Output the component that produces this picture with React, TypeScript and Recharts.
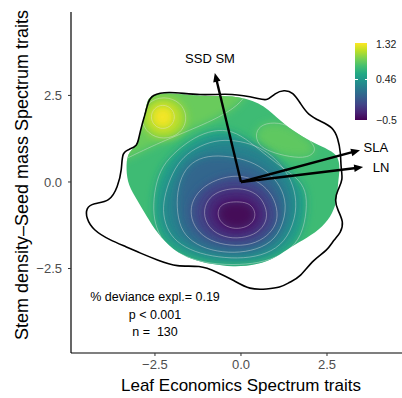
import React from "react";
import { ComposedChart, XAxis, YAxis, Scatter, Curve } from "recharts";

// axes
const xDomain = [-4.94, 4.68];
const yDomain = [-4.94, 4.91];
const xTicks = [-2.5, 0, 2.5];
const yTicks = [-2.5, 0, 2.5];

// colour scale of the fitted surface
const scaleMin = -0.5;
const scaleMax = 1.32;
const scaleLabels = ["1.32", "0.46", "\u22120.5"];
const scaleTickValue = 0.46;

// outline of the sampled trait space
const hull = [
  [-2.59, 2.51], [-2.15, 2.63], [-1.19, 2.49], [-0.23, 2.57], [0.55, 2.4], [0.76, 2.34],
  [0.99, 2.57], [1.25, 2.66], [1.51, 2.6], [1.74, 2.25], [1.95, 1.94], [2.3, 1.76],
  [2.67, 1.59], [2.82, 1.27], [2.9, 0.84], [2.9, 0.43], [2.97, 0.06], [2.81, -0.23],
  [2.72, -0.52], [2.81, -0.81], [2.99, -1.16], [2.9, -1.47], [2.69, -1.68], [2.52, -1.97],
  [2.09, -2.25], [1.72, -2.75], [1.42, -2.89], [1.13, -3.06], [0.76, -3.09], [0.26, -3.12],
  [-0.23, -2.83], [-0.7, -2.6], [-1.19, -2.4], [-1.86, -2.46], [-2.44, -2.25], [-2.94, -2.05],
  [-3.31, -1.88], [-3.81, -1.68], [-4.3, -1.39], [-4.5, -1.04], [-4.5, -0.75], [-4.3, -0.61],
  [-3.81, -0.58], [-3.58, -0.14], [-3.46, 0.35], [-3.46, 0.87], [-3.23, 0.95], [-3.02, 1.04],
  [-2.97, 1.27], [-2.88, 1.65], [-2.79, 1.94], [-2.7, 2.31],
];

// area where the surface is drawn
const surface = [
  [-2.65, 2.49], [-2.15, 2.6], [-1.19, 2.46], [-0.23, 2.51], [0.55, 2.31], [1.05, 1.85],
  [1.51, 1.47], [2.09, 1.13], [2.59, 0.92], [2.82, 0.75], [2.88, 0.4], [2.82, -0.03],
  [2.79, -0.52], [2.67, -0.9], [2.38, -1.3], [1.92, -1.62], [1.42, -1.88], [1.05, -2.17],
  [0.47, -2.4], [-0.23, -2.46], [-0.9, -2.37], [-1.4, -2.25], [-1.98, -1.97], [-2.44, -1.47],
  [-2.73, -1.01], [-3.02, -0.52], [-3.28, -0.09], [-3.34, 0.35], [-3.31, 0.84], [-3.05, 1.01],
  [-2.97, 1.27], [-2.88, 1.65], [-2.79, 1.99], [-2.73, 2.31],
];
const surfaceValue = 0.74;

// contour rings (level lines)
const ringHill = [
  [-3.66, 0.49], [-3.14, 0.78], [-2.06, 1.27], [-0.9, 1.73], [-0.17, 2.14], [0.12, 2.46],
  [0.41, 2.95], [-2.94, 3.09], [-3.81, 1.79],
];
const ringBlob = [
  [2.21, 0.92], [2.01, 1.21], [1.57, 1.56], [1.08, 1.73], [0.61, 1.68], [0.41, 1.42],
  [0.49, 1.07], [0.84, 0.87], [1.42, 0.72], [1.95, 0.69],
];
const ring06 = [
  [1.92, -0.81], [1.89, -0.23], [1.63, 0.12], [1.22, 0.4], [0.76, 0.75], [0.26, 1.16],
  [-0.26, 1.5], [-0.81, 1.5], [-1.34, 1.3], [-1.86, 0.92], [-2.3, 0.46], [-2.5, -0.14],
  [-2.56, -0.81], [-2.47, -1.33], [-2.21, -1.82], [-1.63, -2.17], [-0.9, -2.37], [-0.03, -2.4],
  [0.7, -2.31], [1.37, -2.02], [1.77, -1.56],
];
const ring04 = [
  [1.63, -0.87], [1.57, -0.23], [1.34, 0.29], [0.9, 0.78], [0.41, 1.07], [-0.17, 1.21],
  [-0.76, 1.21], [-1.34, 0.98], [-1.77, 0.64], [-2.06, 0.12], [-2.24, -0.46], [-2.27, -0.95],
  [-2.12, -1.45], [-1.77, -1.82], [-1.19, -2.08], [-0.47, -2.2], [0.26, -2.2], [0.9, -2.02],
  [1.37, -1.62],
];
const ring02 = [
  [1.34, -0.81], [1.22, -0.23], [0.9, 0.2], [0.41, 0.55], [-0.17, 0.72], [-0.84, 0.78],
  [-1.34, 0.64], [-1.69, 0.29], [-1.86, -0.29], [-1.86, -0.9], [-1.72, -1.45], [-1.31, -1.82],
  [-0.7, -2.02], [-0.03, -2.05], [0.61, -1.91], [1.1, -1.56],
];
const ring00 = [
  [1.08, -0.87], [0.93, -0.38], [0.55, 0], [0.03, 0.2], [-0.55, 0.14], [-1.1, -0.12],
  [-1.42, -0.52], [-1.48, -0.95], [-1.31, -1.39], [-0.9, -1.71], [-0.32, -1.85], [0.32, -1.82],
  [0.78, -1.56], [1.02, -1.24],
];
const ringM02 = [
  [0.78, -0.9], [0.61, -0.46], [0.26, -0.23], [-0.17, -0.17], [-0.67, -0.26], [-0.99, -0.52],
  [-1.1, -0.9], [-0.96, -1.3], [-0.61, -1.56], [-0.12, -1.65], [0.41, -1.53], [0.7, -1.24],
];
const ringM04 = [
  [0.44, -0.92], [0.31, -0.66], [0.06, -0.57], [-0.32, -0.57], [-0.6, -0.66], [-0.7, -0.92],
  [-0.58, -1.2], [-0.26, -1.36], [0.1, -1.33], [0.35, -1.18],
];
const ringY10 = [
  [-1.54, 1.85], [-1.74, 2.31], [-2.24, 2.49], [-2.73, 2.31], [-2.94, 1.85], [-2.73, 1.39],
  [-2.24, 1.21], [-1.74, 1.39],
];
const ringY12 = [
  [-1.9, 1.88], [-2.01, 2.14], [-2.27, 2.25], [-2.53, 2.14], [-2.64, 1.88], [-2.53, 1.62],
  [-2.27, 1.51], [-2.01, 1.62],
];
const peak = [[-2.05, 1.88], [-2.27, 2.1], [-2.49, 1.88], [-2.27, 1.66]];

// fitted value inside each ring, drawn in this order
const bands = [
  { ring: ringHill, value: 0.9, line: true },
  { ring: ringBlob, value: 0.86, line: true },
  { ring: ring06, value: 0.5, line: true },
  { ring: ring04, value: 0.3, line: true },
  { ring: ring02, value: 0.1, line: true },
  { ring: ring00, value: -0.1, line: true },
  { ring: ringM02, value: -0.3, line: true },
  { ring: ringM04, value: -0.47, line: true },
  { ring: ringY10, value: 1.1, line: true },
  { ring: ringY12, value: 1.26, line: true },
  { ring: peak, value: 1.32, line: false },
];

// trait loadings
const arrowNames = ["SSD SM", "SLA", "LN"];
const arrowX = [-0.76, 3.46, 3.55];
const arrowY = [3.15, 0.92, 0.43];
const labelX = [-0.9, 3.92, 4.07];
const labelY = [3.58, 1.01, 0.43];

const statLines = ["% deviance expl.= 0.19", "p < 0.001", "n =  130"];

const viridisStops = [
  "#440154", "#482475", "#414487", "#355f8d", "#2a788e", "#21918c",
  "#22a884", "#44bf70", "#7ad151", "#bddf26", "#fde725",
];

const hex = (h: string) => [1, 3, 5].map((i) => parseInt(h.slice(i, i + 2), 16));
function viridis(v: number) {
  const t = Math.min(1, Math.max(0, (v - scaleMin) / (scaleMax - scaleMin))) * 10;
  const i = Math.min(9, Math.floor(t));
  const f = t - i;
  const a = hex(viridisStops[i]);
  const b = hex(viridisStops[i + 1]);
  const c = a.map((ai, k) => Math.round(ai + (b[k] - ai) * f));
  return `rgb(${c[0]},${c[1]},${c[2]})`;
}

const toPts = (xy: number[][]) => xy.map(([x, y]) => ({ x, y }));
const fmt = (v: number) => (v < 0 ? "\u2212" + Math.abs(v).toFixed(1) : v.toFixed(1));
const FONT = "'Liberation Sans', Arial, Helvetica, sans-serif";
const noDot = () => <g />;

const surfaceLine = (p: any) => (
  <g>
    <defs>
      <clipPath id="surfClip">
        <Curve type="basisClosed" points={p.points} />
      </clipPath>
      <filter id="soft" x="-30%" y="-30%" width="160%" height="160%">
        <feGaussianBlur stdDeviation="4.5" />
      </filter>
    </defs>
    <Curve type="basisClosed" points={p.points} fill={viridis(surfaceValue)} stroke="none" />
  </g>
);

const bandFill = (value: number) => (p: any) => (
  <g clipPath="url(#surfClip)">
    <g filter="url(#soft)">
      <Curve type="basisClosed" points={p.points} fill={viridis(value)} stroke="none" />
    </g>
  </g>
);

const bandLine = (p: any) => (
  <g clipPath="url(#surfClip)">
    <Curve type="basisClosed" points={p.points} fill="none" stroke="#e6e6e6" strokeOpacity={0.45} strokeWidth={0.9} />
  </g>
);

const hullLine = (p: any) => (
  <Curve type="basisClosed" points={p.points} fill="none" stroke="#000" strokeWidth={1.6} />
);

const arrowLine = (p: any) => {
  const [a, b] = p.points;
  const dx = b.x - a.x;
  const dy = b.y - a.y;
  const len = Math.hypot(dx, dy);
  const ux = dx / len;
  const uy = dy / len;
  const hl = 9;
  const hw = 3.8;
  const bx = b.x - ux * hl;
  const by = b.y - uy * hl;
  return (
    <g>
      <line x1={a.x} y1={a.y} x2={bx + ux * 2} y2={by + uy * 2} stroke="#000" strokeWidth={2.4} />
      <polygon
        points={`${b.x},${b.y} ${bx - uy * hw},${by + ux * hw} ${bx + uy * hw},${by - ux * hw}`}
        fill="#000"
      />
    </g>
  );
};

const labelShape = (p: any) => (
  <text
    x={p.cx}
    y={p.cy}
    textAnchor="middle"
    dominantBaseline="central"
    fontSize={13}
    fontFamily={FONT}
    fill="#000"
  >
    {p.payload.name}
  </text>
);

export default function App() {
  const labels = arrowNames.map((name, i) => ({ x: labelX[i], y: labelY[i], name }));
  const tick = { fill: "#4d4d4d", fontSize: 13, fontFamily: FONT };
  const barTop = 43;
  const barH = 77;
  const tickY = barTop + (barH * (scaleMax - scaleTickValue)) / (scaleMax - scaleMin);
  const labelYs = [barTop + 1, tickY, barTop + barH];

  return (
    <div style={{ position: "absolute", left: 0, top: 0, width: 402, height: 398, fontFamily: FONT }}>
      <div style={{ position: "absolute", left: 10, top: -18, fontSize: 17, lineHeight: "20px", whiteSpace: "pre" }}>
        (b)
      </div>
      <div style={{ position: "absolute", left: 72, top: -18, fontSize: 17, lineHeight: "20px", whiteSpace: "pre" }}>
        Biological grouping by spectrum
      </div>

      <ComposedChart width={402} height={398} margin={{ top: 12, right: 0, bottom: 0, left: 0 }}>
        <XAxis
          type="number"
          dataKey="x"
          domain={xDomain}
          ticks={xTicks}
          allowDataOverflow
          height={45}
          tickFormatter={fmt}
          tick={tick}
          tickSize={3}
          tickMargin={4}
          axisLine={{ stroke: "#000", strokeWidth: 1.2 }}
          tickLine={{ stroke: "#333" }}
        />
        <YAxis
          type="number"
          dataKey="y"
          domain={yDomain}
          ticks={yTicks}
          allowDataOverflow
          width={71}
          tickFormatter={fmt}
          tick={tick}
          tickSize={3}
          tickMargin={6}
          axisLine={{ stroke: "#000", strokeWidth: 1.2 }}
          tickLine={{ stroke: "#333" }}
        />
        <Scatter data={toPts(surface)} line={surfaceLine} shape={noDot} isAnimationActive={false} />
        {bands.map((b, i) => (
          <Scatter key={"f" + i} data={toPts(b.ring)} line={bandFill(b.value)} shape={noDot} isAnimationActive={false} />
        ))}
        {bands
          .filter((b) => b.line)
          .map((b, i) => (
            <Scatter key={"l" + i} data={toPts(b.ring)} line={bandLine} shape={noDot} isAnimationActive={false} />
          ))}
        <Scatter data={toPts(hull)} line={hullLine} shape={noDot} isAnimationActive={false} />
        {arrowNames.map((n, i) => (
          <Scatter
            key={n}
            data={[{ x: 0, y: 0 }, { x: arrowX[i], y: arrowY[i] }]}
            line={arrowLine}
            shape={noDot}
            isAnimationActive={false}
          />
        ))}
        <Scatter data={labels} shape={labelShape} isAnimationActive={false} />
      </ComposedChart>

      {/* colour bar */}
      <div
        style={{
          position: "absolute",
          left: 355,
          top: barTop,
          width: 12,
          height: barH,
          background: `linear-gradient(to top, ${viridisStops.join(", ")})`,
        }}
      />
      <div style={{ position: "absolute", left: 355, top: tickY - 0.5, width: 2.5, height: 1, background: "#fff" }} />
      <div style={{ position: "absolute", left: 364.5, top: tickY - 0.5, width: 2.5, height: 1, background: "#fff" }} />
      {scaleLabels.map((s, i) => (
        <div
          key={s}
          style={{ position: "absolute", left: 376, top: labelYs[i] - 7, fontSize: 10.5, lineHeight: "14px", color: "#1a1a1a" }}
        >
          {s}
        </div>
      ))}

      {statLines.map((s, i) => (
        <div
          key={s}
          style={{
            position: "absolute",
            left: 55,
            width: 200,
            top: 289 + i * 17.5,
            fontSize: 12.5,
            lineHeight: "16px",
            textAlign: "center",
            whiteSpace: "pre",
            color: "#000",
          }}
        >
          {s}
        </div>
      ))}

      <div
        style={{ position: "absolute", left: 91, width: 300, top: 376, fontSize: 17, lineHeight: "20px", textAlign: "center" }}
      >
        Leaf Economics Spectrum traits
      </div>
      <div
        style={{
          position: "absolute",
          left: 22 - 175,
          width: 350,
          top: 175 - 10,
          height: 20,
          fontSize: 18,
          lineHeight: "20px",
          textAlign: "center",
          transform: "rotate(-90deg)",
          whiteSpace: "nowrap",
        }}
      >
        Stem density–Seed mass Spectrum traits
      </div>
    </div>
  );
}
